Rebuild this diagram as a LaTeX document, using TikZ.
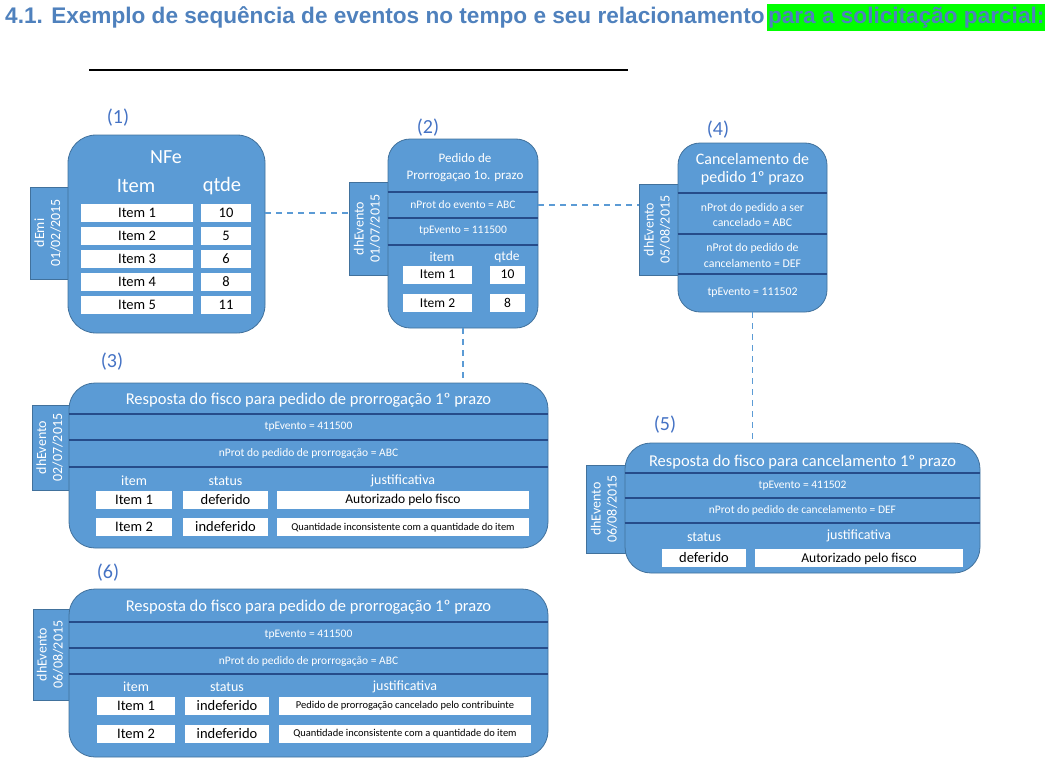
\documentclass[tikz,border=0pt]{standalone}
\usepackage{fontspec}
\setmainfont{Carlito}
\newfontfamily\titlefont{Liberation Sans}
\usepackage{xcolor}
\usepackage{tikz}
\usetikzlibrary{positioning}
\definecolor{evfill}{RGB}{91,155,213}
\definecolor{evline}{RGB}{65,113,156}
\definecolor{evsep}{RGB}{38,76,138}
\definecolor{numblue}{RGB}{68,114,196}
\definecolor{ttlblue}{RGB}{79,129,189}
\definecolor{hlgreen}{RGB}{0,255,0}
\tikzset{
  ttl/.style={inner sep=0pt, text=ttlblue, font=\titlefont\bfseries\fontsize{22.6}{26}\selectfont},
  evbox/.style={draw=evline, fill=evfill, line width=0.8pt, inner sep=0pt},
  evtab/.style={draw=evline, fill=evfill, line width=0.8pt, inner sep=0pt, text=white, font=\fontsize{14}{16}\selectfont},
  num/.style={inner sep=0pt, text=numblue, font=\fontsize{20}{24}\selectfont},
  txt/.style={inner sep=0pt, text=white, align=center},
  cell/.style={fill=white, inner sep=0pt, minimum height=18, text height=9.3pt, text depth=0pt, font=\fontsize{14.5}{17}\selectfont},
  cellmd/.style={cell, text height=8.7pt, font=\fontsize{13.5}{16}\selectfont},
  cellsm/.style={cell, text height=6.8pt, font=\fontsize{10.5}{12}\selectfont},
  sep/.style={draw=evsep, line width=1.4pt},
  link/.style={draw=evfill, line width=1.5pt, dash pattern=on 6pt off 5pt}
}

\begin{document}
\begin{tikzpicture}[x=1pt, y=-1pt]
    \useasboundingbox (0,0) rectangle (1050,768);

    % title
    \node[ttl, anchor=base west] (ttl) at (5,24) {4.1. Exemplo de sequência de eventos no tempo e seu relacionamento};
    \node[ttl, fill=hlgreen, anchor=base west, text height=19.5, text depth=7.5, inner xsep=1pt] (ttlhl) at ([xshift=2pt]ttl.base east) {para a solicitação parcial:};
    \draw[line width=1.3pt] (89,70) -- (628,70);

    % (1) NFe
    \node[evtab, minimum width=38, minimum height=92] (tab1) at (49,233) {\rotatebox{90}{\begin{tabular}{@{}c@{}}dEmi\\01/02/2015\end{tabular}}};
    \node[evbox, minimum width=197, minimum height=198, rounded corners=28] (nfe) at (166.5,234) {};
    \node[num] (n1) at (118,118) {(1)};
    \node[txt, font=\fontsize{20}{24}\selectfont] (nfet) at (166,157) {NFe};
    \node[txt, font=\fontsize{20.5}{24}\selectfont] (nfei) at (136,186) {Item};
    \node[txt, font=\fontsize{20.5}{24}\selectfont] (nfeq) at (222,186) {qtde};
    \node[cell, minimum width=112] (c11) at (137,213) {Item 1};
    \node[cell, minimum width=50] (q11) at (226,213) {10};
    \node[cell, minimum width=112] (c12) at (137,236) {Item 2};
    \node[cell, minimum width=50] (q12) at (226,236) {5};
    \node[cell, minimum width=112] (c13) at (137,259) {Item 3};
    \node[cell, minimum width=50] (q13) at (226,259) {6};
    \node[cell, minimum width=112] (c14) at (137,282) {Item 4};
    \node[cell, minimum width=50] (q14) at (226,282) {8};
    \node[cell, minimum width=112] (c15) at (137,305) {Item 5};
    \node[cell, minimum width=50] (q15) at (226,305) {11};

    % (2) pedido de prorrogacao
    \node[evtab, minimum width=39, minimum height=93] (tab2) at (368.5,228.5) {\rotatebox{90}{\begin{tabular}{@{}c@{}}dhEvento\\01/07/2015\end{tabular}}};
    \node[evbox, minimum width=150, minimum height=189, rounded corners=22] (ped) at (463,233.5) {};
    \node[num] (n2) at (428,128) {(2)};
    \node[txt, font=\fontsize{13}{17}\selectfont] (pedt) at (465,167.5) {Pedido de\\Prorrogaçao 1o. prazo};
    \draw[sep] (ped.west |- 0,192) -- (ped.east |- 0,192);
    \draw[sep] (ped.west |- 0,218) -- (ped.east |- 0,218);
    \draw[sep] (ped.west |- 0,245) -- (ped.east |- 0,245);
    \node[txt, font=\fontsize{11.5}{14}\selectfont] (prot2) at (463,205) {nProt do evento = ABC};
    \node[txt, font=\fontsize{11.5}{14}\selectfont] (tp2) at (463,231) {tpEvento = 111500};
    \node[txt, font=\fontsize{13.5}{16}\selectfont] (pedi) at (442,257) {item};
    \node[txt, font=\fontsize{13.5}{16}\selectfont] (pedq) at (507,257) {qtde};
    \node[cellmd, minimum width=69] (c21) at (437.5,274.5) {Item 1};
    \node[cellmd, minimum width=35] (q21) at (507.5,274.5) {10};
    \node[cellmd, minimum width=69] (c22) at (437.5,303) {Item 2};
    \node[cellmd, minimum width=35] (q22) at (507.5,303) {8};

    % (4) cancelamento
    \node[evtab, minimum width=39, minimum height=91] (tab4) at (658.5,229.5) {\rotatebox{90}{\begin{tabular}{@{}c@{}}dhEvento\\05/08/2015\end{tabular}}};
    \node[evbox, minimum width=149, minimum height=169, rounded corners=22] (canc) at (752.5,227.5) {};
    \node[num] (n4) at (718,130) {(4)};
    \node[txt, font=\fontsize{16}{18}\selectfont] (canct) at (752.5,169) {Cancelamento de\\pedido 1º prazo};
    \draw[sep] (canc.west |- 0,193) -- (canc.east |- 0,193);
    \draw[sep] (canc.west |- 0,234) -- (canc.east |- 0,234);
    \draw[sep] (canc.west |- 0,274) -- (canc.east |- 0,274);
    \node[txt, font=\fontsize{11.8}{14.5}\selectfont] (prot4) at (752.5,215) {nProt do pedido a ser\\cancelado = ABC};
    \node[txt, font=\fontsize{11.8}{16.5}\selectfont] (prot4b) at (752.5,255.5) {nProt do pedido de\\cancelamento = DEF};
    \node[txt, font=\fontsize{11.8}{14}\selectfont] (tp4) at (752.5,293) {tpEvento = 111502};

    % (3) resposta prorrogacao
    \node[evtab, minimum width=38, minimum height=85] (tab3) at (51,447.5) {\rotatebox{90}{\begin{tabular}{@{}c@{}}dhEvento\\02/07/2015\end{tabular}}};
    \node[evbox, minimum width=479, minimum height=165, rounded corners=26] (resp1) at (308.5,465.5) {};
    \node[num] (n3) at (112,362) {(3)};
    \node[txt, font=\fontsize{16.5}{20}\selectfont] (r1t) at (308.5,400) {Resposta do fisco para pedido de prorrogação 1º prazo};
    \draw[sep] (resp1.west |- 0,414) -- (resp1.east |- 0,414);
    \draw[sep] (resp1.west |- 0,440) -- (resp1.east |- 0,440);
    \draw[sep] (resp1.west |- 0,467) -- (resp1.east |- 0,467);
    \node[txt, font=\fontsize{11.5}{14}\selectfont] (tp3) at (308.5,427) {tpEvento = 411500};
    \node[txt, font=\fontsize{11.5}{14}\selectfont] (prot3) at (308.5,453) {nProt do pedido de prorrogação = ABC};
    \node[txt, font=\fontsize{14}{16}\selectfont] (r1i) at (134,481) {item};
    \node[txt, font=\fontsize{14}{16}\selectfont] (r1s) at (225.5,481) {status};
    \node[txt, font=\fontsize{14}{16}\selectfont] (r1j) at (403,481) {justificativa};
    \node[cell, minimum width=76] (c31) at (134,499.5) {Item 1};
    \node[cell, minimum width=85] (s31) at (225.5,499.5) {deferido};
    \node[cellmd, minimum width=252] (j31) at (403,499.5) {Autorizado pelo fisco};
    \node[cell, minimum width=76] (c32) at (134,527) {Item 2};
    \node[cell, minimum width=85] (s32) at (225.5,527) {indeferido};
    \node[cellsm, minimum width=252] (j32) at (403,527) {Quantidade inconsistente com a quantidade do item};

    % (5) resposta cancelamento
    \node[evtab, minimum width=39, minimum height=88] (tab5) at (605.5,509) {\rotatebox{90}{\begin{tabular}{@{}c@{}}dhEvento\\06/08/2015\end{tabular}}};
    \node[evbox, minimum width=355, minimum height=130, rounded corners=26] (resp2) at (802.5,508) {};
    \node[num] (n5) at (665,425) {(5)};
    \node[txt, font=\fontsize{16.5}{20}\selectfont] (r2t) at (802.5,462) {Resposta do fisco para cancelamento 1º prazo};
    \draw[sep] (resp2.west |- 0,473) -- (resp2.east |- 0,473);
    \draw[sep] (resp2.west |- 0,498) -- (resp2.east |- 0,498);
    \draw[sep] (resp2.west |- 0,523) -- (resp2.east |- 0,523);
    \node[txt, font=\fontsize{11.5}{14}\selectfont] (tp5) at (802.5,486) {tpEvento = 411502};
    \node[txt, font=\fontsize{11.5}{14}\selectfont] (prot5) at (802.5,510) {nProt do pedido de cancelamento = DEF};
    \node[txt, font=\fontsize{14}{16}\selectfont] (r2s) at (704,537) {status};
    \node[txt, font=\fontsize{14}{16}\selectfont] (r2j) at (859,536) {justificativa};
    \node[cell, minimum width=84] (s51) at (704,558) {deferido};
    \node[cellmd, minimum width=208] (j51) at (859,558) {Autorizado pelo fisco};

    % (6) nova resposta prorrogacao
    \node[evtab, minimum width=37, minimum height=91] (tab6) at (51.5,654.5) {\rotatebox{90}{\begin{tabular}{@{}c@{}}dhEvento\\06/08/2015\end{tabular}}};
    \node[evbox, minimum width=479, minimum height=168, rounded corners=26] (resp3) at (308.5,673) {};
    \node[num] (n6) at (108,573) {(6)};
    \node[txt, font=\fontsize{16.5}{20}\selectfont] (r3t) at (308.5,607) {Resposta do fisco para pedido de prorrogação 1º prazo};
    \draw[sep] (resp3.west |- 0,622) -- (resp3.east |- 0,622);
    \draw[sep] (resp3.west |- 0,648) -- (resp3.east |- 0,648);
    \draw[sep] (resp3.west |- 0,674) -- (resp3.east |- 0,674);
    \node[txt, font=\fontsize{11.5}{14}\selectfont] (tp6) at (308.5,635) {tpEvento = 411500};
    \node[txt, font=\fontsize{11.5}{14}\selectfont] (prot6) at (308.5,661) {nProt do pedido de prorrogação = ABC};
    \node[txt, font=\fontsize{14}{16}\selectfont] (r3i) at (136,687) {item};
    \node[txt, font=\fontsize{14}{16}\selectfont] (r3s) at (227,687) {status};
    \node[txt, font=\fontsize{14}{16}\selectfont] (r3j) at (405,687) {justificativa};
    \node[cell, minimum width=78] (c61) at (136,705.5) {Item 1};
    \node[cell, minimum width=84] (s61) at (227,705.5) {indeferido};
    \node[cellsm, minimum width=252] (j61) at (405,705.5) {Pedido de prorrogação cancelado pelo contribuinte};
    \node[cell, minimum width=78] (c62) at (136,733.5) {Item 2};
    \node[cell, minimum width=84] (s62) at (227,733.5) {indeferido};
    \node[cellsm, minimum width=252] (j62) at (405,733.5) {Quantidade inconsistente com a quantidade do item};

    % links
    \draw[link] (nfe.east |- c11) -- (tab2.west |- c11);
    \draw[link] (ped.east |- prot2) -- (tab4.west |- prot2);
    \draw[link] (ped.south) -- (ped.south |- resp1.north);
    \draw[link] (canc.south) -- (canc.south |- resp2.north);
\end{tikzpicture}
\end{document}
